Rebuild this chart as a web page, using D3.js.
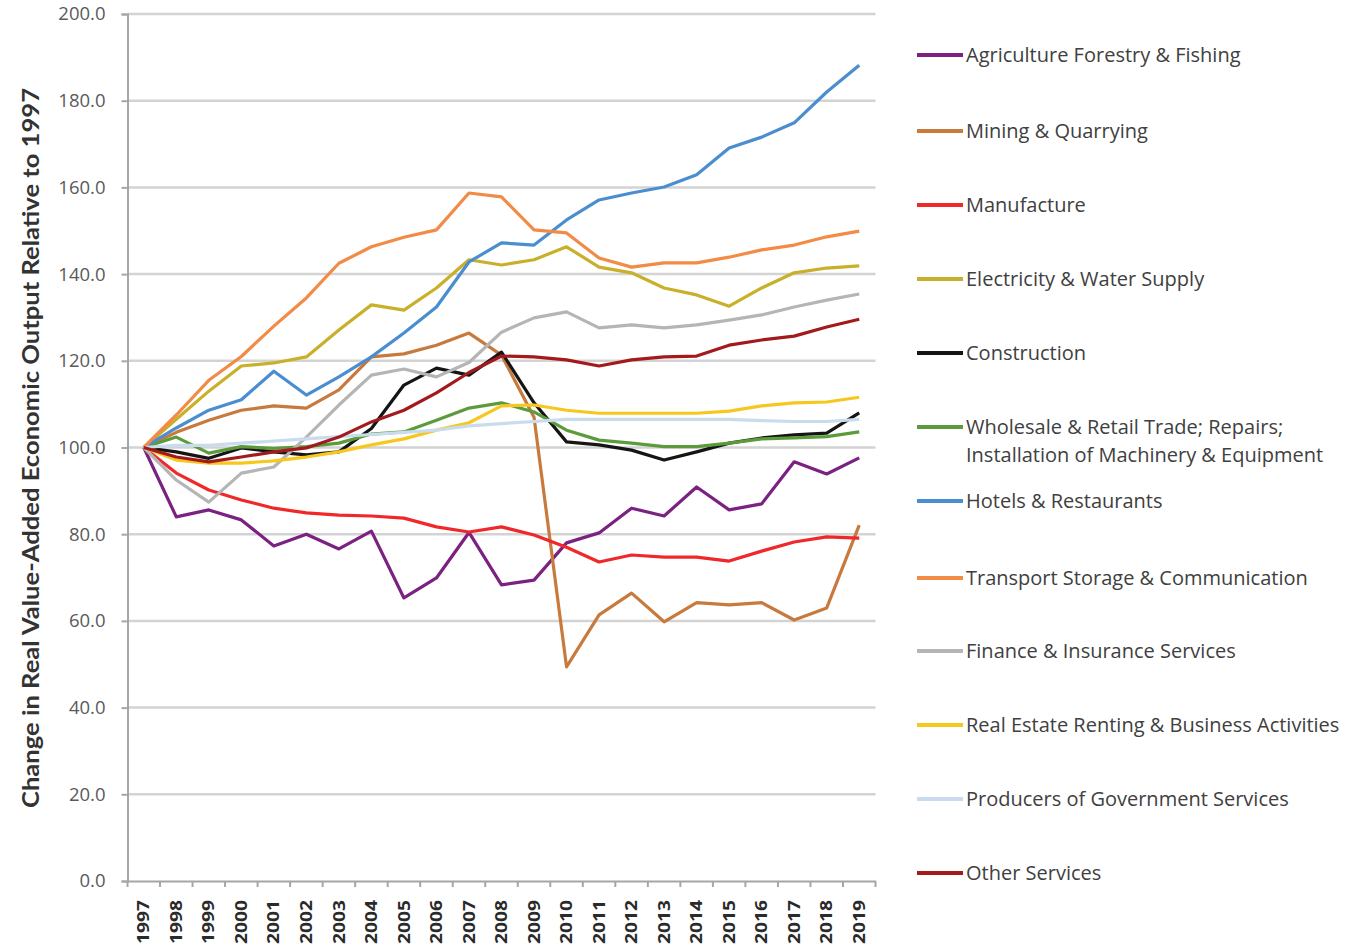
<!DOCTYPE html>
<html>
<head>
<meta charset="utf-8">
<script src="https://cdn.jsdelivr.net/npm/d3@7"></script>
<style>
  body { margin: 0; background: #fff; }
  svg { display: block; }
</style>
</head>
<body>
<svg id="chart" width="1349" height="949"></svg>
<script>
const years = ["1997","1998","1999","2000","2001","2002","2003","2004","2005","2006","2007","2008","2009","2010","2011","2012","2013","2014","2015","2016","2017","2018","2019"];
const yTicks = [0,20,40,60,80,100,120,140,160,180,200];

const agriculture = [100,84,85.6,83.3,77.3,80,76.6,80.7,65.3,69.9,80.4,68.3,69.4,78,80.3,86,84.2,90.9,85.6,87,96.7,93.9,97.6];
const mining      = [100,103.5,106.3,108.6,109.6,109.1,113.3,120.9,121.6,123.6,126.4,121.3,107,49.4,61.4,66.4,59.8,64.2,63.7,64.2,60.2,63,82.1];
const manufacture = [100,94.1,90.2,87.9,86,84.9,84.4,84.2,83.7,81.7,80.5,81.7,79.8,77,73.6,75.2,74.7,74.7,73.8,76.1,78.2,79.4,79.1];
const electricity = [100,106.5,113,118.8,119.5,120.9,127.1,132.9,131.7,136.8,143.3,142.1,143.3,146.3,141.6,140.3,136.8,135.2,132.6,136.8,140.3,141.4,141.9];
const construction= [100,99,97.5,99.9,99,98.3,99,104.4,114.4,118.3,116.7,122,110.3,101.3,100.6,99.4,97.1,99,101,102.2,102.9,103.3,108];
const wholesale   = [100,102.4,98.7,100.2,99.8,100.2,101,103.1,103.6,106.3,109.1,110.3,108.2,104,101.7,101,100.2,100.2,101,102,102.2,102.5,103.6];
const hotels      = [100,104.5,108.6,111,117.6,112.1,116.3,120.9,126.4,132.4,142.8,147.2,146.7,152.5,157.1,158.7,160.1,162.9,169.1,171.6,174.9,182,188.2];
const transport   = [100,107.5,115.5,121,128,134.5,142.5,146.3,148.5,150.2,158.7,157.8,150.2,149.5,143.7,141.6,142.6,142.6,143.9,145.6,146.7,148.6,149.9];
const finance     = [100,92.5,87.4,94.1,95.5,102.4,109.8,116.7,118.1,116.3,119.6,126.6,129.9,131.3,127.6,128.3,127.6,128.3,129.4,130.6,132.4,134,135.4];
const realEstate  = [100,97.1,96.4,96.4,96.9,97.8,99,100.6,102,104,105.7,109.6,109.8,108.6,107.9,107.9,107.9,107.9,108.4,109.6,110.3,110.5,111.6];
const government  = [100,100.5,100.5,101,101.5,102,102.5,103,103.5,104,105,105.5,106,106.5,106.5,106.5,106.5,106.5,106.5,106.2,106,106,106.5];
const otherServ   = [100,97.8,96.7,97.8,99,99.9,102.4,105.9,108.6,112.6,117.3,121.1,120.9,120.2,118.8,120.2,120.9,121.1,123.6,124.8,125.7,127.8,129.6];

const seriesNames = [
  "Agriculture Forestry & Fishing",
  "Mining & Quarrying",
  "Manufacture",
  "Electricity & Water Supply",
  "Construction",
  "Wholesale & Retail Trade; Repairs;|Installation of Machinery & Equipment",
  "Hotels & Restaurants",
  "Transport Storage & Communication",
  "Finance & Insurance Services",
  "Real Estate Renting & Business Activities",
  "Producers of Government Services",
  "Other Services"
];
const seriesValues = [agriculture, mining, manufacture, electricity, construction, wholesale, hotels, transport, finance, realEstate, government, otherServ];
const seriesColors = ["#7b2182","#c8793c","#f0282a","#c9b02a","#151515","#5c9b3c","#4a8ed0","#f18b45","#b5b5b5","#f6c81e","#c9dcee","#a31a1d"];

const svg = d3.select("#chart");
const mLeft = 127.5, mRight = 875.5, mTop = 14, mBottom = 881;

const x = d3.scaleBand().domain(years).range([mLeft, mRight]).paddingInner(0).paddingOuter(0);
const y = d3.scaleLinear().domain([0, 200]).range([mBottom, mTop]);
const cx = d => x(d) + x.bandwidth() / 2;

// gridlines
svg.append("g")
  .selectAll("line")
  .data(yTicks.filter(t => t > 0))
  .join("line")
  .attr("x1", mLeft).attr("x2", mRight)
  .attr("y1", d => y(d)).attr("y2", d => y(d))
  .attr("stroke", "#d3d3d3").attr("stroke-width", 2.5);

// y axis
const yAxis = svg.append("g")
  .attr("transform", `translate(${mLeft},0)`)
  .call(d3.axisLeft(y).tickValues(yTicks).tickFormat(d3.format(".1f")).tickSize(6).tickPadding(16));
yAxis.select(".domain").attr("stroke", "#a6a6a6").attr("stroke-width", 2);
yAxis.selectAll(".tick line").attr("stroke", "#a6a6a6").attr("stroke-width", 2);
yAxis.selectAll(".tick text")
  .attr("font-family", "'Open Sans', 'DejaVu Sans', sans-serif")
  .attr("font-size", 18.5)
  .attr("fill", "#5a5a5a");

// x axis
const xAxis = svg.append("g")
  .attr("transform", `translate(0,${mBottom})`)
  .call(d3.axisBottom(x).tickSize(0).tickPadding(0));
xAxis.select(".domain").attr("stroke", "#a6a6a6").attr("stroke-width", 2);
xAxis.selectAll(".tick text")
  .attr("font-family", "'Open Sans', 'DejaVu Sans', sans-serif")
  .attr("font-size", 16)
  .attr("font-weight", "bold")
  .attr("fill", "#2a2a2a")
  .attr("text-anchor", "end")
  .attr("dy", "0.35em")
  .attr("textLength", 44)
  .attr("lengthAdjust", "spacingAndGlyphs")
  .attr("transform", "translate(0,19) rotate(-90)")
  .attr("x", 0).attr("y", 0);
// category boundary ticks
const tickPos = years.map(d => x(d)).concat([mRight]);
svg.append("g")
  .selectAll("line")
  .data(tickPos)
  .join("line")
  .attr("x1", d => d).attr("x2", d => d)
  .attr("y1", mBottom).attr("y2", mBottom + 6)
  .attr("stroke", "#a6a6a6").attr("stroke-width", 2);

// y axis title
svg.append("text")
  .attr("transform", `translate(39,448) rotate(-90)`)
  .attr("text-anchor", "middle")
  .attr("font-family", "Lato, 'DejaVu Sans', sans-serif")
  .attr("font-size", 22)
  .attr("font-weight", "bold")
  .attr("fill", "#333")
  .attr("textLength", 720)
  .attr("lengthAdjust", "spacingAndGlyphs")
  .text("Change in Real Value-Added Economic Output Relative to 1997");

// lines
const line = d3.line().x((d, i) => cx(years[i])).y(d => y(d));
svg.append("g")
  .selectAll("path")
  .data(seriesValues)
  .join("path")
  .attr("d", d => line(d))
  .attr("fill", "none")
  .attr("stroke", (d, i) => seriesColors[i])
  .attr("stroke-width", 3.2)
  .attr("stroke-linejoin", "round");

// legend
const legendY = [55, 131, 205, 279, 353, 427, 501, 578, 651, 725, 799, 873];
const lg = svg.append("g");
seriesNames.forEach((name, i) => {
  const gy = legendY[i];
  lg.append("line")
    .attr("x1", 917).attr("x2", 963)
    .attr("y1", gy).attr("y2", gy)
    .attr("stroke", seriesColors[i]).attr("stroke-width", 4);
  const lines = name.split("|");
  lines.forEach((t, j) => {
    lg.append("text")
      .attr("x", 966).attr("y", gy + j * 28)
      .attr("dy", "0.35em")
      .attr("font-family", "'Open Sans', 'DejaVu Sans', sans-serif")
      .attr("font-size", 20)
      .attr("fill", "#404040")
      .text(t);
  });
});
</script>
</body>
</html>
